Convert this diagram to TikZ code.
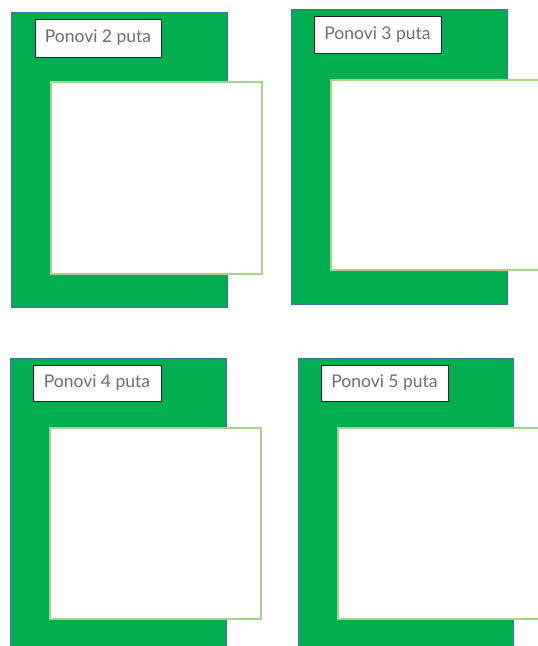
\documentclass[tikz,border=0pt]{standalone}
\usepackage{fontspec}
\setmainfont{Lato}
\definecolor{pgreen}{RGB}{0,173,79}
\definecolor{pblue}{RGB}{65,113,156}
\definecolor{plight}{RGB}{169,209,142}
\definecolor{ptext}{RGB}{110,110,110}
\tikzset{
  greenbox/.style={draw=pblue, fill=pgreen, line width=0.8pt, inner sep=0, outer sep=0, anchor=north west},
  whitebox/.style={draw=plight, fill=white, line width=1.2pt, inner sep=0, outer sep=0, anchor=north west},
  labelbox/.style={draw=black!85, fill=white, line width=0.9pt, inner sep=0, outer sep=0, anchor=north west,
     font=\fontsize{17.5}{20}\selectfont, text=ptext},
}
\begin{document}
\begin{tikzpicture}[x=1pt,y=-1pt]
\useasboundingbox (0,0) rectangle (538,646);
\clip (0,0) rectangle (538,646);
% panel 1
\node[greenbox, minimum width=216pt, minimum height=295pt] (g1) at (11,12) {};
\node[whitebox, minimum width=211pt, minimum height=192pt] (w1) at (51,82) {};
\node[labelbox, minimum width=126pt, minimum height=38pt] (l1) at (35,19) {Ponovi 2 puta};
% panel 2
\node[greenbox, minimum width=216pt, minimum height=295pt] (g2) at (291,9) {};
\node[whitebox, minimum width=230pt, minimum height=190pt] (w2) at (331,80) {};
\node[labelbox, minimum width=127pt, minimum height=37pt] (l2) at (314,16) {Ponovi 3 puta};
% panel 3
\node[greenbox, minimum width=216pt, minimum height=300pt] (g3) at (10,358) {};
\node[whitebox, minimum width=211pt, minimum height=191pt] (w3) at (50,428) {};
\node[labelbox, minimum width=128pt, minimum height=36pt] (l3) at (33,365) {Ponovi 4 puta};
% panel 4
\node[greenbox, minimum width=215pt, minimum height=300pt] (g4) at (298,358) {};
\node[whitebox, minimum width=230pt, minimum height=191pt] (w4) at (338,428) {};
\node[labelbox, minimum width=127pt, minimum height=36pt] (l4) at (321,365) {Ponovi 5 puta};
\end{tikzpicture}
\end{document}
